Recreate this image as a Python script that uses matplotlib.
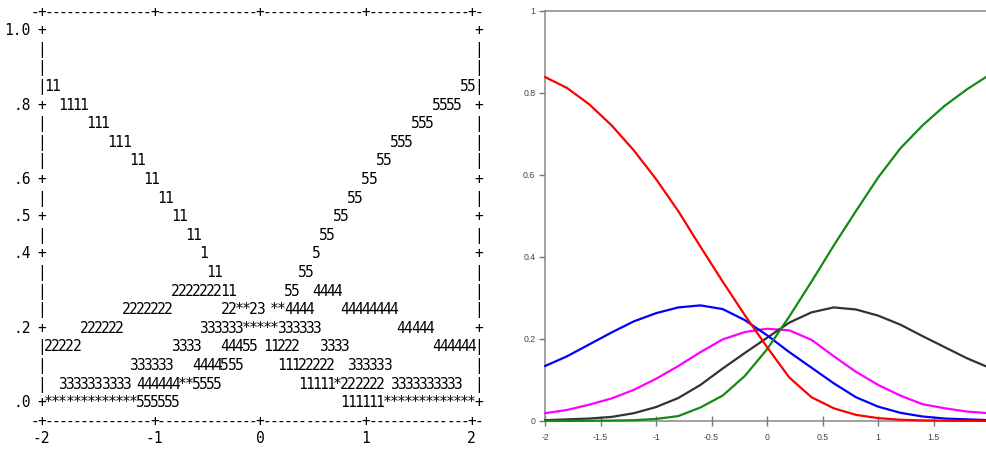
import matplotlib
matplotlib.use('Agg')
import matplotlib.pyplot as plt
from matplotlib import font_manager as fm

# ---------------- left panel: line-printer (ASCII) plot ----------------
ascii_rows = [
    "+" + " " * 61 + "+",
    "|" + " " * 61 + "|",
    "|" + " " * 61 + "|",
    "|11" + " " * 57 + "55|",
    "+  1111" + " " * 49 + "5555  +",
    "|      111" + " " * 43 + "555      |",
    "|         111" + " " * 37 + "555         |",
    "|            11" + " " * 33 + "55            |",
    "+              11" + " " * 29 + "55              +",
    "|                11" + " " * 25 + "55                |",
    "+" + " " * 18 + "11" + " " * 21 + "55" + " " * 18 + "+",
    "|" + " " * 20 + "11" + " " * 17 + "55" + " " * 20 + "|",
    "+" + " " * 22 + "1" + " " * 15 + "5" + " " * 22 + "+",
    "|" + " " * 23 + "11" + " " * 11 + "55" + " " * 23 + "|",
    "|" + " " * 18 + "222222211" + " " * 7 + "55  4444" + " " * 19 + "|",
    "|" + " " * 11 + "2222222" + " " * 7 + "22**23 **4444" + " " * 4 + "44444444" + " " * 11 + "|",
    "+" + " " * 5 + "222222" + " " * 11 + "333333*****333333" + " " * 11 + "44444" + " " * 6 + "+",
    "|22222" + " " * 13 + "3333   44455 11222   3333" + " " * 12 + "444444|",
    "|" + " " * 12 + "333333   4444555     11122222  333333" + " " * 12 + "|",
    "|  3333333333 444444**5555" + " " * 11 + "11111*222222 3333333333  |",
    "+*************555555" + " " * 23 + "111111*************+",
]
ascii_border = "-+" + "-" * 15 + "+" + "-" * 14 + "+" + "-" * 14 + "+" + "-" * 14 + "+-"
ascii_xtick_labels = ["-2", "-1", "0", "1", "2"]
ascii_ytick_values = [1.0, 0.8, 0.6, 0.5, 0.4, 0.2, 0.0]
ascii_ytick_labels = ["1.0", ".8", ".6", ".5", ".4", ".2", ".0"]

# ---------------- right panel: predicted probabilities ----------------
x_vals = [-2.0, -1.8, -1.6, -1.4, -1.2, -1.0, -0.8, -0.6, -0.4, -0.2, 0.0,
          0.2, 0.4, 0.6, 0.8, 1.0, 1.2, 1.4, 1.6, 1.8, 2.0]
p1_red = [0.839, 0.812, 0.772, 0.721, 0.660, 0.590, 0.512, 0.425, 0.340, 0.258, 0.180,
          0.106, 0.058, 0.031, 0.015, 0.007, 0.003, 0.0015, 0.0007, 0.0003, 0.0002]
p2_blue = [0.134, 0.158, 0.187, 0.216, 0.243, 0.263, 0.277, 0.282, 0.273, 0.246, 0.209,
           0.168, 0.130, 0.092, 0.058, 0.035, 0.020, 0.011, 0.006, 0.004, 0.002]
p3_magenta = [0.019, 0.027, 0.040, 0.055, 0.076, 0.103, 0.134, 0.168, 0.199, 0.217, 0.225,
              0.221, 0.198, 0.158, 0.120, 0.088, 0.062, 0.041, 0.031, 0.023, 0.019]
p4_black = [0.002, 0.004, 0.006, 0.010, 0.019, 0.034, 0.056, 0.088, 0.128, 0.166, 0.203,
            0.240, 0.265, 0.277, 0.272, 0.257, 0.235, 0.207, 0.180, 0.153, 0.130]
p5_green = [0.0002, 0.0003, 0.0006, 0.001, 0.002, 0.005, 0.012, 0.033, 0.062, 0.110, 0.175,
            0.255, 0.340, 0.428, 0.512, 0.594, 0.665, 0.721, 0.769, 0.809, 0.844]
x_ticks = [-2, -1.5, -1, -0.5, 0, 0.5, 1, 1.5, 2]
x_tick_labels = ["-2", "-1.5", "-1", "-0.5", "0", "0.5", "1", "1.5", "2"]
y_ticks = [0, 0.2, 0.4, 0.6, 0.8, 1.0]
y_tick_labels = ["0", "0.2", "0.4", "0.6", "0.8", "1"]

W, H = 987, 449
fig = plt.figure(figsize=(W / 100, H / 100), dpi=100)
fig.patch.set_facecolor('white')

names = {f.name for f in fm.fontManager.ttflist}
if 'Liberation Sans Narrow' in names:
    afont = dict(family='Liberation Sans Narrow', size=12.0)
else:
    afont = dict(family='DejaVu Sans Mono', size=10.5)

# character grid: column k centre at 41.5 + 7.05k px, row r centre at 29 + 18.6r px
COLW, ROWH, X0, Y0 = 7.05, 18.6, 41.5, 29.0
axL = fig.add_axes([0, 0, 495 / W, 1])
axL.set_xlim(-X0 / COLW, (495 - X0) / COLW)
axL.set_ylim((H - Y0) / ROWH, -Y0 / ROWH)
axL.axis('off')
BASE = 0.33


def put_row(text, r, k0):
    for i, ch in enumerate(text):
        if ch != ' ':
            axL.text(k0 + i, r + BASE, ch, ha='center', va='baseline', color='black', **afont)


for r, row in enumerate(ascii_rows):
    put_row(row, r, 0)
nrows = len(ascii_rows)
put_row(ascii_border, -1, -1)
put_row(ascii_border, nrows, -1)

tick_cols = [i - 1 for i, ch in enumerate(ascii_border) if ch == '+']
for k, lab in zip(tick_cols, ascii_xtick_labels):
    axL.text(k, nrows + 0.95 + BASE, lab, ha='center', va='baseline', color='black', **afont)
for v, lab in zip(ascii_ytick_values, ascii_ytick_labels):
    r = round((1.0 - v) / 0.05)
    axL.text(-1.5, r + BASE, lab, ha='right', va='baseline', color='black', **afont)

# ---------------- right panel ----------------
axR = fig.add_axes([545 / W, 28 / H, (989.2 - 545) / W, 410 / H])
series = [(p3_magenta, '#ff00ff'), (p4_black, '#333333'), (p2_blue, '#0000ff'),
          (p5_green, '#138a13'), (p1_red, '#ff0000')]
for ys, c in series:
    axR.plot(x_vals, ys, color=c, lw=1.6, solid_joinstyle='round', solid_capstyle='round',
             clip_on=False, zorder=3)
axR.set_xlim(-2, 2)
axR.set_ylim(0, 1)
axR.set_xticks(x_ticks)
axR.set_xticklabels(x_tick_labels)
axR.set_yticks(y_ticks)
axR.set_yticklabels(y_tick_labels)
for lab in axR.get_xticklabels() + axR.get_yticklabels():
    lab.set_family('Liberation Sans')
axR.tick_params(axis='y', direction='out', length=4, width=1, color='#777777',
                labelsize=6.3, labelcolor='#444444', pad=3)
axR.tick_params(axis='x', direction='inout', length=7, width=1, color='#777777',
                labelsize=6.3, labelcolor='#444444', pad=5)
for s in axR.spines.values():
    s.set_color('#888888')
    s.set_linewidth(1.1)

fig.savefig('out.png', dpi=100, facecolor='white')
